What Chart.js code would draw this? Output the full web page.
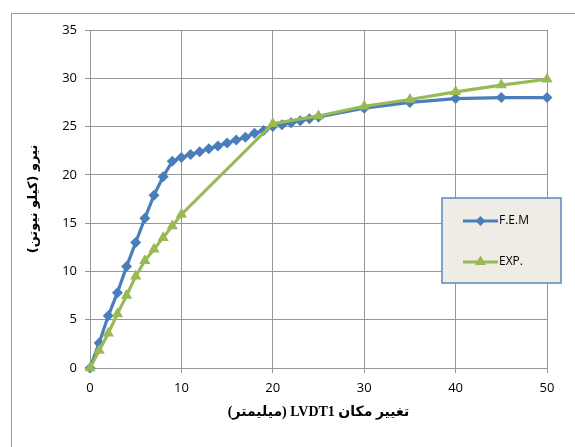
<!DOCTYPE html>
<html lang="fa">
<head>
<meta charset="UTF-8">
<title>FEM vs EXP</title>
<style>
    html, body {
        margin: 0;
        padding: 0;
        background: #fff;
    }
    #wrap {
        width: 575px;
        height: 447px;
        position: relative;
    }
</style>
<script src="https://cdn.jsdelivr.net/npm/chart.js"></script>
</head>
<body>
<div id="wrap"><canvas id="chart" width="575" height="447"></canvas></div>
<script>
// F.E.M series (displacement mm, force kN)
const femX = [0, 1, 2, 3, 4, 5, 6, 7, 8, 9, 10, 11, 12, 13, 14, 15, 16, 17, 18, 19, 20, 21, 22, 23, 24, 25, 30, 35, 40, 45, 50];
const femY = [0, 2.6, 5.4, 7.8, 10.5, 13, 15.5, 17.9, 19.8, 21.4, 21.8, 22.1, 22.4, 22.7, 23.0, 23.3, 23.6, 23.9, 24.3, 24.6, 25.0, 25.2, 25.4, 25.6, 25.8, 26.0, 26.9, 27.5, 27.9, 28.0, 28.0];

// EXP series
const expX = [0, 1, 2, 3, 4, 5, 6, 7, 8, 9, 10, 20, 25, 30, 35, 40, 45, 50];
const expY = [0, 1.8, 3.6, 5.6, 7.5, 9.5, 11.1, 12.3, 13.5, 14.7, 15.9, 25.3, 26.1, 27.1, 27.8, 28.6, 29.3, 29.9];

const xTicks = [0, 10, 20, 30, 40, 50];
const yTicks = [0, 5, 10, 15, 20, 25, 30, 35];

const labels = ['F.E.M', 'EXP.'];
const blue = '#4a7ebb';
const green = '#98b954';

const RLE = '\u202B', PDF = '\u202C';
const xTitle = RLE + 'تغییر مکان LVDT1 (میلیمتر)' + PDF;
const yTitle = RLE + 'نیرو (کیلو نیوتن)' + PDF;

function toPoints(xs, ys) {
    return xs.map((x, i) => ({ x: x, y: ys[i] }));
}

// outer frame of the chart object
const framePlugin = {
    id: 'frame',
    beforeDraw(chart) {
        const ctx = chart.ctx;
        ctx.save();
        ctx.strokeStyle = '#9a9a9a';
        ctx.lineWidth = 1;
        ctx.strokeRect(11.5, 13.5, 700, 600);
        ctx.restore();
    }
};

// boxed legend inside the plot, like the excel one
const legendPlugin = {
    id: 'boxLegend',
    afterDraw(chart) {
        const ctx = chart.ctx;
        const a = chart.chartArea;
        const bx = a.right - 105, by = a.top + 168, bw = 119, bh = 85;
        ctx.save();
        ctx.fillStyle = '#eeece4';
        ctx.fillRect(bx, by, bw, bh);
        ctx.strokeStyle = '#5b86c0';
        ctx.lineWidth = 1.5;
        ctx.strokeRect(bx, by, bw, bh);

        const rows = [
            { text: labels[0], color: blue, style: 'diamond', y: by + 23 },
            { text: labels[1], color: green, style: 'triangle', y: by + 64 }
        ];
        rows.forEach(r => {
            ctx.strokeStyle = r.color;
            ctx.lineWidth = 3;
            ctx.beginPath();
            ctx.moveTo(bx + 21, r.y);
            ctx.lineTo(bx + 56, r.y);
            ctx.stroke();
            const cx = bx + 38.5;
            ctx.fillStyle = r.color;
            ctx.beginPath();
            if (r.style === 'diamond') {
                ctx.moveTo(cx, r.y - 5);
                ctx.lineTo(cx + 5, r.y);
                ctx.lineTo(cx, r.y + 5);
                ctx.lineTo(cx - 5, r.y);
            } else {
                ctx.moveTo(cx, r.y - 6.5);
                ctx.lineTo(cx + 5.5, r.y + 3);
                ctx.lineTo(cx - 5.5, r.y + 3);
            }
            ctx.closePath();
            ctx.fill();
            ctx.fillStyle = '#000';
            ctx.font = '12px "Open Sans"';
            ctx.textBaseline = 'middle';
            ctx.textAlign = 'left';
            ctx.fillText(r.text, bx + 57, r.y);
        });
        ctx.restore();
    }
};

const gridColor = '#979797';

new Chart(document.getElementById('chart'), {
    type: 'line',
    data: {
        datasets: [
            {
                label: labels[0],
                data: toPoints(femX, femY),
                borderColor: blue,
                backgroundColor: blue,
                borderWidth: 3.2,
                pointStyle: 'rectRot',
                pointRadius: 5.5,
                pointBorderWidth: 0,
                clip: false,
                order: 2
            },
            {
                label: labels[1],
                data: toPoints(expX, expY),
                borderColor: green,
                backgroundColor: green,
                borderWidth: 3.2,
                pointStyle: 'triangle',
                pointRadius: 6.5,
                pointBorderWidth: 0,
                clip: false,
                order: 1
            }
        ]
    },
    options: {
        responsive: false,
        animation: false,
        events: [],
        layout: { padding: { top: 30, right: 28, left: 0, bottom: 0 } },
        plugins: {
            legend: { display: false },
            tooltip: { enabled: false }
        },
        scales: {
            x: {
                type: 'linear',
                min: 0,
                max: 50,
                afterFit(s) { s.height = 79; },
                afterBuildTicks(s) { s.ticks = xTicks.map(v => ({ value: v })); },
                grid: { color: gridColor, lineWidth: 1, tickLength: 5 },
                border: { color: gridColor },
                ticks: {
                    color: '#000',
                    font: { family: 'Open Sans', size: 13 },
                    padding: 7,
                    maxRotation: 0
                },
                title: {
                    display: true,
                    text: xTitle,
                    color: '#000',
                    align: 'center',
                    font: { family: 'Liberation Serif, DejaVu Sans', size: 14, weight: 'bold' },
                    padding: { top: 0, bottom: 26 }
                }
            },
            y: {
                min: 0,
                max: 35,
                afterFit(s) { s.width = 90; },
                afterBuildTicks(s) { s.ticks = yTicks.map(v => ({ value: v })); },
                grid: { color: gridColor, lineWidth: 1, tickLength: 5 },
                border: { color: gridColor },
                ticks: {
                    color: '#000',
                    font: { family: 'Open Sans', size: 13 },
                    padding: 8
                },
                title: {
                    display: true,
                    text: yTitle,
                    color: '#000',
                    font: { family: 'DejaVu Sans', size: 13, weight: 'bold' },
                    padding: { top: 26, bottom: 0 }
                }
            }
        }
    },
    plugins: [framePlugin, legendPlugin]
});
</script>
</body>
</html>
